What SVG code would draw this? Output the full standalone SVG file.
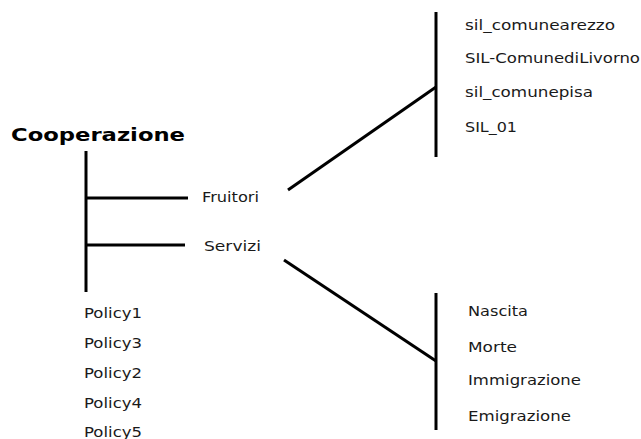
<svg xmlns="http://www.w3.org/2000/svg" width="641" height="439" viewBox="0 0 641 439">
<style>
text{font-family:"DejaVu Sans",sans-serif;font-size:14.5px;fill:#1a1a1a}
.t{font-weight:bold;font-size:18px;fill:#000}
line{stroke:#000;stroke-width:3;stroke-linecap:butt}
</style>
<rect width="641" height="439" fill="#fff"/>
<g id="connectors">
<line x1="86" y1="151" x2="86" y2="292"/>
<line x1="86" y1="198" x2="188" y2="198"/>
<line x1="86" y1="245" x2="185" y2="245"/>
<line x1="288" y1="190" x2="436" y2="87"/>
<line x1="436" y1="12" x2="436" y2="157"/>
<line x1="284" y1="260" x2="436" y2="361"/>
<line x1="436" y1="293" x2="436" y2="430"/>
</g>
<g id="cooperazione"><text class="t" x="11" y="141" textLength="174" lengthAdjust="spacingAndGlyphs">Cooperazione</text></g>
<g id="fruitori"><text x="202" y="202" textLength="57" lengthAdjust="spacingAndGlyphs">Fruitori</text></g>
<g id="servizi"><text x="204" y="251" textLength="57" lengthAdjust="spacingAndGlyphs">Servizi</text></g>
<g id="fruitori-list">
<text x="465" y="30" textLength="150" lengthAdjust="spacingAndGlyphs">sil_comunearezzo</text>
<text x="465" y="63" textLength="175" lengthAdjust="spacingAndGlyphs">SIL-ComunediLivorno</text>
<text x="465" y="97" textLength="128" lengthAdjust="spacingAndGlyphs">sil_comunepisa</text>
<text x="465" y="132" textLength="52" lengthAdjust="spacingAndGlyphs">SIL_01</text>
</g>
<g id="servizi-list">
<text x="468" y="315.5" textLength="60" lengthAdjust="spacingAndGlyphs">Nascita</text>
<text x="468" y="352" textLength="49" lengthAdjust="spacingAndGlyphs">Morte</text>
<text x="468" y="385" textLength="113" lengthAdjust="spacingAndGlyphs">Immigrazione</text>
<text x="468" y="421" textLength="103" lengthAdjust="spacingAndGlyphs">Emigrazione</text>
</g>
<g id="policies">
<text x="84" y="318" textLength="58" lengthAdjust="spacingAndGlyphs">Policy1</text>
<text x="84" y="348" textLength="58" lengthAdjust="spacingAndGlyphs">Policy3</text>
<text x="84" y="378" textLength="58" lengthAdjust="spacingAndGlyphs">Policy2</text>
<text x="84" y="408" textLength="58" lengthAdjust="spacingAndGlyphs">Policy4</text>
<text x="84" y="437" textLength="58" lengthAdjust="spacingAndGlyphs">Policy5</text>
</g>
</svg>
